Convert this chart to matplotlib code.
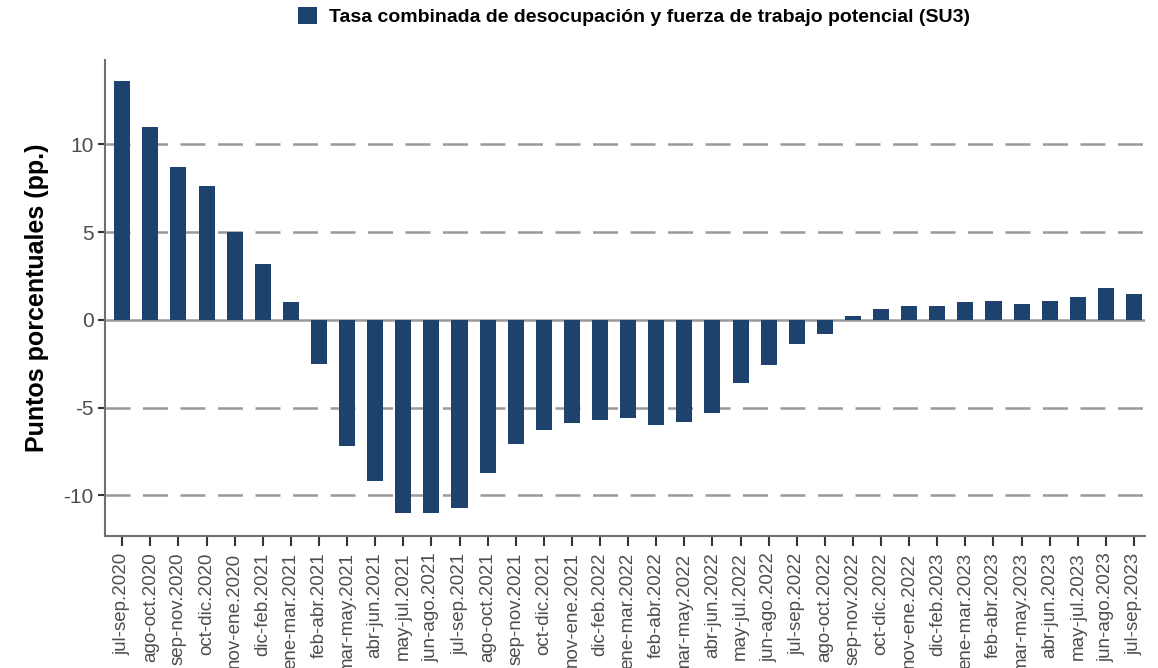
import numpy as np
from matplotlib import pyplot as plt

plt.rcParams['font.family'] = ['Liberation Sans', 'DejaVu Sans']
plt.rcParams['axes.unicode_minus'] = False

periods = [
    'jul-sep.2020', 'ago-oct.2020', 'sep-nov.2020', 'oct-dic.2020', 'nov-ene.2020',
    'dic-feb.2021', 'ene-mar.2021', 'feb-abr.2021', 'mar-may.2021', 'abr-jun.2021',
    'may-jul.2021', 'jun-ago.2021', 'jul-sep.2021', 'ago-oct.2021', 'sep-nov.2021',
    'oct-dic.2021', 'nov-ene.2021', 'dic-feb.2022', 'ene-mar.2022', 'feb-abr.2022',
    'mar-may.2022', 'abr-jun.2022', 'may-jul.2022', 'jun-ago.2022', 'jul-sep.2022',
    'ago-oct.2022', 'sep-nov.2022', 'oct-dic.2022', 'nov-ene.2022', 'dic-feb.2023',
    'ene-mar.2023', 'feb-abr.2023', 'mar-may.2023', 'abr-jun.2023', 'may-jul.2023',
    'jun-ago.2023', 'jul-sep.2023',
]
su3_change = [
    13.6, 11.0, 8.7, 7.6, 5.0, 3.2, 1.0, -2.5, -7.2, -9.2,
    -11.0, -11.0, -10.7, -8.7, -7.1, -6.3, -5.9, -5.7, -5.6, -6.0,
    -5.8, -5.3, -3.6, -2.6, -1.4, -0.8, 0.2, 0.6, 0.8, 0.8,
    1.0, 1.1, 0.9, 1.1, 1.3, 1.8, 1.5,
]
series_name = 'Tasa combinada de desocupación y fuerza de trabajo potencial (SU3)'
bar_color = '#1c426d'

fig = plt.figure(figsize=(11.58, 6.68), dpi=100)
ax = fig.add_axes([0.091, 0.198, 0.898, 0.712])

x = np.arange(len(periods))
for yv in [-10, -5, 5, 10]:
    ax.axhline(yv, color='#9a9a9a', linestyle=(0, (10, 5)), linewidth=1.8, zorder=0)
ax.axhline(0, color='#9a9a9a', linewidth=1.8, zorder=0)

ax.bar(x, su3_change, width=0.57, color=bar_color, label=series_name, zorder=2)

ax.set_xlim(-0.6, len(periods) - 0.6)
ax.set_ylim(-12.3, 14.8)
ax.set_yticks([-10, -5, 0, 5, 10])
ax.set_xticks(x)
ax.set_xticklabels(periods, rotation=90)

for side in ['top', 'right']:
    ax.spines[side].set_visible(False)
for side in ['left', 'bottom']:
    ax.spines[side].set_color('#707070')
    ax.spines[side].set_linewidth(1.5)
ax.tick_params(axis='both', colors='#333333', labelcolor='#4d4d4d', width=1.5)
ax.tick_params(axis='x', labelsize=13.5, length=7, pad=5)
ax.tick_params(axis='y', labelsize=15, length=5)

ax.set_ylabel('Puntos porcentuales (pp.)', fontsize=18, fontweight='bold', labelpad=10)

ax.legend(loc='lower center', bbox_to_anchor=(0.508, 1.035), frameon=False,
          prop={'weight': 'bold', 'size': 14}, handlelength=1.0, handleheight=1.0,
          handletextpad=0.6)

fig.savefig('out.png', dpi=100)
